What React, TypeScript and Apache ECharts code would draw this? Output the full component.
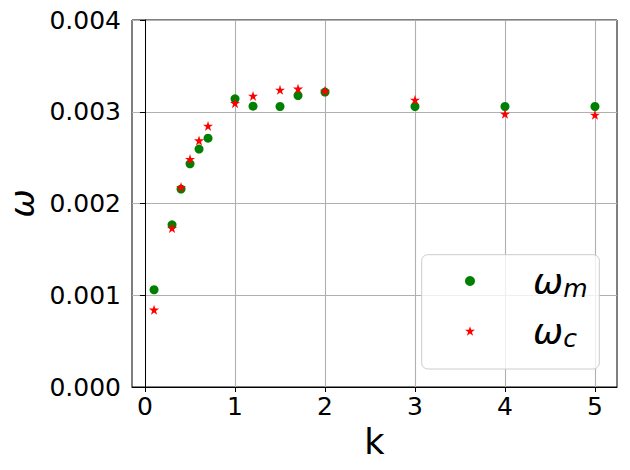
import React, { useEffect, useRef } from 'react';
import * as echarts from 'echarts';

const kValues = [0.1, 0.3, 0.4, 0.5, 0.6, 0.7, 1.0, 1.2, 1.5, 1.7, 2.0, 3.0, 4.0, 5.0];
const omegaM = [0.00106, 0.001768, 0.002157, 0.002432, 0.002593, 0.002712, 0.003141, 0.003061, 0.003057, 0.003177, 0.003214, 0.003057, 0.003057, 0.003057];
const omegaC = [0.000842, 0.001732, 0.002179, 0.002484, 0.002686, 0.002846, 0.003094, 0.003173, 0.003239, 0.00325, 0.003228, 0.00313, 0.002977, 0.002966];
const xTicks = [0, 1, 2, 3, 4, 5];
const seriesNames = ['ω_m', 'ω_c'];
const legendSubs = ['m', 'c'];

const STAR = 'path://M50,0 L61.2,34.5 L97.6,34.5 L68.2,55.9 L79.4,90.5 L50,69.1 L20.6,90.5 L31.8,55.9 L2.4,34.5 L38.8,34.5 Z';
const FONT = 'DejaVu Sans';

export default function App() {
  const ref = useRef<HTMLDivElement>(null);
  useEffect(() => {
    if (!ref.current) return;
    const chart = echarts.init(ref.current, undefined, { renderer: 'svg' });
    const option: any = {
      animation: false,
      backgroundColor: '#ffffff',
      textStyle: { fontFamily: FONT },
      grid: {
        left: 132, right: 13, top: 20, bottom: 83,
        show: true, borderColor: '#000', borderWidth: 1,
        containLabel: false, outerBoundsMode: 'none',
      },
      xAxis: {
        type: 'value', min: -0.145, max: 5.245,
        name: 'k', nameLocation: 'middle', nameGap: 37,
        nameTextStyle: { fontSize: 35, color: '#000', fontFamily: FONT },
        axisLine: { show: true, onZero: false, lineStyle: { color: '#000', width: 1 } },
        axisTick: { show: true, length: 5, customValues: xTicks, lineStyle: { color: '#000' } },
        axisLabel: { customValues: xTicks, fontSize: 25, color: '#000', margin: 7, fontFamily: FONT },
        splitLine: { show: true, lineStyle: { color: '#b0b0b0', width: 1.1 } },
      },
      yAxis: {
        type: 'value', min: 0, max: 0.004, interval: 0.001,
        name: 'ω', nameLocation: 'middle', nameGap: 92, nameRotate: 90,
        nameTextStyle: { fontSize: 34, color: '#000', fontStyle: 'italic', fontFamily: FONT },
        axisLine: { show: true, lineStyle: { color: '#000', width: 1 } },
        axisTick: { show: true, length: 5, lineStyle: { color: '#000' } },
        axisLabel: { fontSize: 25, color: '#000', margin: 11, fontFamily: FONT, formatter: (v: number) => v.toFixed(3) },
        splitLine: { show: true, lineStyle: { color: '#b0b0b0', width: 1.1 } },
      },
      legend: {
        orient: 'vertical', left: 465, top: 263, padding: 0,
        itemWidth: 10, itemHeight: 10, itemGap: 12, z: 20,
        data: [
          { name: seriesNames[0], icon: 'circle' },
          { name: seriesNames[1], icon: STAR },
        ],
        formatter: (name: string) => `{w|ω}{s|${legendSubs[seriesNames.indexOf(name)]}}`,
        textStyle: {
          padding: [0, 0, 0, 53],
          rich: {
            w: { fontSize: 36, fontStyle: 'italic', fontFamily: FONT, color: '#000', lineHeight: 40, verticalAlign: 'middle' },
            s: { fontSize: 25, fontStyle: 'italic', fontFamily: FONT, color: '#000', lineHeight: 25, verticalAlign: 'bottom' },
          },
        },
      },
      graphic: [
        {
          type: 'rect', z: 10,
          shape: { x: 421.7, y: 254.7, width: 177.6, height: 114.3, r: 6 },
          style: { fill: 'rgba(255,255,255,0.8)', stroke: '#cccccc', lineWidth: 1 },
        },
      ],
      series: [
        {
          name: seriesNames[0], type: 'scatter', symbol: 'circle', symbolSize: 9,
          itemStyle: { color: '#008000', opacity: 1 },
          data: kValues.map((k, i) => [k, omegaM[i]]),
        },
        {
          name: seriesNames[1], type: 'scatter', symbol: STAR, symbolSize: [10, 10],
          itemStyle: { color: '#ff0000', opacity: 1 },
          data: kValues.map((k, i) => [k, omegaC[i]]),
        },
      ],
    };
    chart.setOption(option);
    return () => chart.dispose();
  }, []);
  return <div ref={ref} style={{ position: 'fixed', left: 0, top: 0, width: 630, height: 470 }} />;
}
